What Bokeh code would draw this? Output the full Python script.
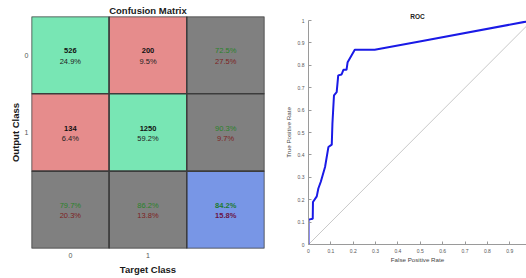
from bokeh.plotting import figure
from bokeh.models import Range1d, FixedTicker
from bokeh.layouts import row, column
from bokeh.embed import file_html
from bokeh.resources import INLINE

# ---------------- data ----------------
classes = ["0", "1"]
counts = [[526, 200], [134, 1250]]
count_pct = [["24.9%", "9.5%"], ["6.4%", "59.2%"]]
row_good = ["72.5%", "90.3%"]
row_bad = ["27.5%", "9.7%"]
col_good = ["79.7%", "86.2%"]
col_bad = ["20.3%", "13.8%"]
total_good = "84.2%"
total_bad = "15.8%"

fpr = [0, 0, 0.019, 0.020, 0.037, 0.044, 0.055, 0.074, 0.089, 0.104, 0.107,
       0.111, 0.114, 0.126, 0.133, 0.148, 0.156, 0.170, 0.175, 0.207, 0.296,
       0.503, 1.0]
tpr = [0, 0.111, 0.115, 0.19, 0.215, 0.25, 0.28, 0.346, 0.435, 0.446, 0.539,
       0.613, 0.666, 0.68, 0.755, 0.759, 0.78, 0.78, 0.814, 0.869, 0.869,
       0.907, 1.0]
chance = [0, 1]
roc_ticks_x = [0, 0.1, 0.2, 0.3, 0.4, 0.5, 0.6, 0.7, 0.8, 0.9]
roc_ticks_y = [0, 0.1, 0.2, 0.3, 0.4, 0.5, 0.6, 0.7, 0.8, 0.9, 1]
roc_labels_x = ["0", "0.1", "0.2", "0.3", "0.4", "0.5", "0.6", "0.7", "0.8", "0.9"]
roc_labels_y = ["0", "0.1", "0.2", "0.3", "0.4", "0.5", "0.6", "0.7", "0.8", "0.9", "1"]

FONT = "Liberation Sans"
GREEN = "#78e6b4"
RED = "#e68c8c"
GREY = "#808080"
BLUE = "#7896e6"
TXT_G = "#2a822a"
TXT_R = "#7d2222"

# ---------------- confusion matrix ----------------
p1 = figure(width=280, height=278, x_range=Range1d(0, 3), y_range=Range1d(3, 0),
            output_backend="svg", toolbar_location=None,
            min_border_left=31, min_border_right=16, min_border_top=16,
            min_border_bottom=30)
p1.outline_line_color = None
p1.grid.visible = False

n = len(classes)
xs, ys, fills = [], [], []
top_txt, top_col, top_style, bot_txt, bot_col, bot_style = [], [], [], [], [], []
for r in range(n + 1):
    for c in range(n + 1):
        xs.append(c + 0.5)
        ys.append(r + 0.5)
        if r < n and c < n:
            fills.append(GREEN if r == c else RED)
            top_txt.append(str(counts[r][c])); top_col.append("#111111"); top_style.append("bold")
            bot_txt.append(count_pct[r][c]); bot_col.append("#222222"); bot_style.append("normal")
        elif r < n and c == n:
            fills.append(GREY)
            top_txt.append(row_good[r]); top_col.append(TXT_G); top_style.append("normal")
            bot_txt.append(row_bad[r]); bot_col.append(TXT_R); bot_style.append("normal")
        elif r == n and c < n:
            fills.append(GREY)
            top_txt.append(col_good[c]); top_col.append(TXT_G); top_style.append("normal")
            bot_txt.append(col_bad[c]); bot_col.append(TXT_R); bot_style.append("normal")
        else:
            fills.append(BLUE)
            top_txt.append(total_good); top_col.append("#1d7a2e"); top_style.append("bold")
            bot_txt.append(total_bad); bot_col.append("#6a1545"); bot_style.append("bold")

p1.rect(x=xs, y=ys, width=1, height=1, fill_color=fills, line_color="#3c3c3c",
        line_width=1.5)
p1.text(x=xs, y=ys, text=top_txt, text_color=top_col, text_font_style=top_style,
        text_font={"value": FONT}, text_font_size={"value": "7.5px"},
        text_align="center", text_baseline="middle", y_offset=-4.5)
p1.text(x=xs, y=ys, text=bot_txt, text_color=bot_col, text_font_style=bot_style,
        text_font={"value": FONT}, text_font_size={"value": "7.5px"},
        text_align="center", text_baseline="middle", y_offset=6)

tick_pos = [i + 0.5 for i in range(n)]
for ax in (p1.xaxis[0], p1.yaxis[0]):
    ax.ticker = FixedTicker(ticks=tick_pos)
    ax.major_label_overrides = {tick_pos[i]: classes[i] for i in range(n)}
    ax.axis_line_color = None
    ax.major_tick_line_color = None
    ax.major_tick_in = 0
    ax.major_tick_out = 0
    ax.minor_tick_line_color = None
    ax.minor_tick_in = 0
    ax.minor_tick_out = 0
    ax.major_label_text_font = FONT
    ax.major_label_text_font_size = "7px"
    ax.major_label_text_color = "#555555"
    ax.axis_label_text_font = FONT
    ax.axis_label_text_font_size = "9.5px"
    ax.axis_label_text_font_style = "bold"
    ax.axis_label_text_color = "#1a1a1a"
p1.xaxis.axis_label = "Target Class"
p1.yaxis.axis_label = "Output Class"
p1.xaxis.major_label_standoff = 4
p1.xaxis.axis_label_standoff = 3
p1.yaxis.major_label_standoff = 3
p1.yaxis.axis_label_standoff = 1
p1.yaxis.major_label_orientation = "horizontal"
p1.title.text = "Confusion Matrix"
p1.title.align = "center"
p1.title.text_font = FONT
p1.title.text_font_size = "9.5px"
p1.title.text_font_style = "bold"
p1.title.text_color = "#1a1a1a"
p1.title.standoff = 1

# ---------------- ROC ----------------
p2 = figure(width=246, height=278, x_range=Range1d(0, 0.975), y_range=Range1d(0, 1),
            output_backend="svg", toolbar_location=None,
            min_border_left=28, min_border_right=0, min_border_top=20,
            min_border_bottom=34)
p2.outline_line_color = None
p2.grid.visible = False
p2.line(chance, chance, line_color="#c8c8c8", line_width=1)
p2.line(fpr, tpr, line_color="#1a1ae6", line_width=2)

p2.xaxis.ticker = FixedTicker(ticks=roc_ticks_x)
p2.xaxis.major_label_overrides = {roc_ticks_x[i]: roc_labels_x[i] for i in range(len(roc_ticks_x))}
p2.yaxis.ticker = FixedTicker(ticks=roc_ticks_y)
p2.yaxis.major_label_overrides = {roc_ticks_y[i]: roc_labels_y[i] for i in range(len(roc_ticks_y))}
for ax in (p2.xaxis[0], p2.yaxis[0]):
    ax.axis_line_color = "#9a9a9a"
    ax.major_tick_line_color = "#9a9a9a"
    ax.major_tick_in = 3
    ax.major_tick_out = 0
    ax.minor_tick_line_color = None
    ax.minor_tick_in = 0
    ax.minor_tick_out = 0
    ax.major_label_text_font = FONT
    ax.major_label_text_font_size = "5px"
    ax.major_label_text_color = "#555555"
    ax.axis_label_text_font = FONT
    ax.axis_label_text_font_size = "6.2px"
    ax.axis_label_text_font_style = "normal"
    ax.axis_label_text_color = "#444444"
p2.xaxis.axis_label = "False Positive Rate"
p2.yaxis.axis_label = "True Positive Rate"
p2.xaxis.major_label_standoff = 4
p2.xaxis.axis_label_standoff = 0
p2.yaxis.major_label_standoff = 4
p2.yaxis.axis_label_standoff = 3
p2.yaxis.major_label_orientation = "horizontal"
p2.title.text = "ROC"
p2.title.align = "center"
p2.title.text_font = FONT
p2.title.text_font_size = "6.5px"
p2.title.text_font_style = "bold"
p2.title.text_color = "#222222"
p2.title.standoff = 2
p2.title.offset = 2

# separate columns keep each plot's own borders
layout = row(column(p1), column(p2))

open("out.html", "w").write(file_html(layout, INLINE))
